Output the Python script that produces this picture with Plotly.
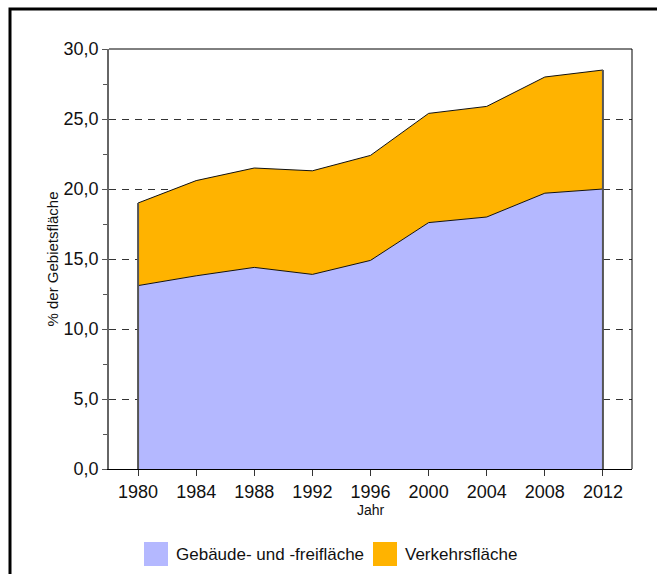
import plotly.graph_objects as go

years = [1980, 1984, 1988, 1992, 1996, 2000, 2004, 2008, 2012]
gebaeude = [13.1, 13.8, 14.4, 13.9, 14.9, 17.6, 18.0, 19.7, 20.0]
verkehr = [5.9, 6.8, 7.1, 7.4, 7.5, 7.8, 7.9, 8.3, 8.5]
y_ticks = [0, 5, 10, 15, 20, 25, 30]
series_names = ["Gebäude- und -freifläche", "Verkehrsfläche"]
colors = ["#B4B8FF", "#FFB300"]

total = [a + b for a, b in zip(gebaeude, verkehr)]

FONT = "Liberation Sans, Arial, sans-serif"

fig = go.Figure()
fig.add_trace(go.Scatter(x=years, y=gebaeude, name=series_names[0], stackgroup="one",
                         mode="lines", line=dict(color="#111111", width=1),
                         fillcolor=colors[0], showlegend=False))
fig.add_trace(go.Scatter(x=years, y=verkehr, name=series_names[1], stackgroup="one",
                         mode="lines", line=dict(color="#111111", width=1),
                         fillcolor=colors[1], showlegend=False))
# vertical edges of the area at first and last year
for i in (0, len(years) - 1):
    fig.add_trace(go.Scatter(x=[years[i], years[i]], y=[0, total[i]], mode="lines",
                             line=dict(color="#555555", width=2), showlegend=False,
                             hoverinfo="skip"))

L, R, T, B = 109, 632, 49, 469
W, H = 657, 574
def px(x):
    return (x - L) / (R - L)
def py(y):
    return (B - y) / (B - T)

shapes = [
    dict(type="rect", xref="paper", yref="paper", x0=px(10), x1=px(720), y0=py(700), y1=py(9),
         line=dict(color="black", width=3), layer="above"),
    dict(type="line", xref="paper", yref="paper", x0=0, x1=1, y0=1, y1=1,
         line=dict(color="black", width=1), layer="above"),
    dict(type="line", xref="paper", yref="paper", x0=1, x1=1, y0=0, y1=1,
         line=dict(color="black", width=1), layer="above"),
]
legend_pos = [(144, 174), (373, 403)]
annotations = []
for (sx, tx), name, c in zip(legend_pos, series_names, colors):
    shapes.append(dict(type="rect", xref="paper", yref="paper", x0=px(sx), x1=px(sx + 24),
                       y0=py(566), y1=py(542), fillcolor=c, line=dict(width=0)))
    annotations.append(dict(xref="paper", yref="paper", x=px(tx), y=py(554), text=name,
                            showarrow=False, xanchor="left", yanchor="middle",
                            font=dict(family=FONT, size=17, color="#111111")))

fig.update_layout(
    width=W, height=H,
    margin=dict(l=L, r=W - R, t=T, b=H - B),
    paper_bgcolor="white", plot_bgcolor="white",
    separators=",.",
    showlegend=False,
    shapes=shapes, annotations=annotations,
    xaxis=dict(range=[1978, 2014], tickvals=years, ticks="outside", ticklen=6,
               tickcolor="#333333", showline=True, linecolor="black", linewidth=1,
               showgrid=False, zeroline=False,
               tickfont=dict(family=FONT, size=18, color="#111111"),
               title=dict(text="Jahr", font=dict(family=FONT, size=14, color="#111111"), standoff=0)),
    yaxis=dict(range=[0, 30], tickvals=y_ticks, tickformat=".1f", ticks="outside", ticklen=5,
               tickcolor="#555555", showline=True, linecolor="#666666", linewidth=1.5,
               showgrid=True, gridcolor="#333333", gridwidth=1, griddash="7px,6px",
               zeroline=False,
               minor=dict(dtick=2.5, ticks="outside", ticklen=4, tickcolor="#555555", showgrid=False),
               tickfont=dict(family=FONT, size=18, color="#111111"),
               title=dict(text="% der Gebietsfläche", font=dict(family=FONT, size=15, color="#111111"), standoff=1)),
)

fig.write_html("out.html", config={"displayModeBar": False},
               post_script="document.body.style.margin='0';document.body.style.overflow='hidden';")
